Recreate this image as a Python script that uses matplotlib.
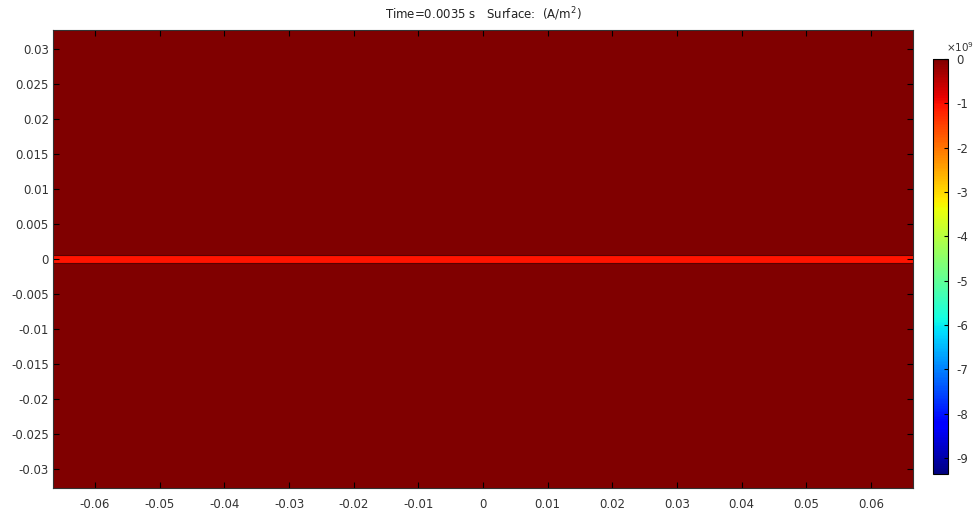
import numpy as np
import matplotlib.pyplot as plt

# Surface values (A/m^2) on a coarse strip grid
x_edges = [-0.0665, 0.0665]
y_edges = [-0.0327, -0.0005, 0.0005, 0.0327]
surface = [0.0, -1.03e9, 0.0]

x_ticks = [-0.06, -0.05, -0.04, -0.03, -0.02, -0.01, 0, 0.01, 0.02, 0.03, 0.04, 0.05, 0.06]
x_labels = ['-0.06', '-0.05', '-0.04', '-0.03', '-0.02', '-0.01', '0', '0.01', '0.02',
            '0.03', '0.04', '0.05', '0.06']
y_ticks = [-0.03, -0.025, -0.02, -0.015, -0.01, -0.005, 0, 0.005, 0.01, 0.015, 0.02, 0.025, 0.03]
y_labels = ['-0.03', '-0.025', '-0.02', '-0.015', '-0.01', '-0.005', '0', '0.005', '0.01',
            '0.015', '0.02', '0.025', '0.03']
cb_ticks = [0, -1, -2, -3, -4, -5, -6, -7, -8, -9]
vmin, vmax = -9.36e9, 0.0

plt.rcParams['font.family'] = 'DejaVu Sans'
fig = plt.figure(figsize=(9.79, 5.14), dpi=100)
ax = fig.add_axes([53/979, 1 - 488/514, 860/979, 458/514])

Z = np.array(surface).reshape(-1, 1)
mesh = ax.pcolormesh(x_edges, y_edges, Z, cmap='jet', vmin=vmin, vmax=vmax, shading='flat')
ax.axhline(y_edges[1], color='#5a0000', lw=0.8)
ax.axhline(y_edges[2], color='#5a0000', lw=0.8)
ax.set_xlim(x_edges[0], x_edges[-1])
ax.set_ylim(y_edges[0], y_edges[-1])

ax.set_xticks(x_ticks)
ax.set_xticklabels(x_labels)
ax.set_yticks(y_ticks)
ax.set_yticklabels(y_labels)
ax.tick_params(direction='in', length=4, width=0.8, labelsize=8.5, colors='black',
               labelcolor='#333333', top=True, right=True)
ax.tick_params(axis='x', pad=7)
ax.tick_params(axis='y', pad=3)
for s in ax.spines.values():
    s.set_color('#333333')
    s.set_linewidth(0.8)

ax.set_title('Time=0.0035 s   Surface:  (A/m$^2$)', fontsize=8.5, color='#222222', pad=8)

cax = fig.add_axes([933/979, 1 - 474/514, 15/979, 415/514])
cb = fig.colorbar(mesh, cax=cax)
cb.set_ticks([t * 1e9 for t in cb_ticks])
cb.set_ticklabels([str(t) for t in cb_ticks])
cax.tick_params(direction='in', length=3, width=0.8, labelsize=8.5, labelcolor='#333333', pad=6)
cb.outline.set_linewidth(0.8)
fig.text(946/979, 1 - 52/514, r'$\times10^9$', fontsize=7.5, color='#333333')

plt.savefig('out.png', dpi=100)
